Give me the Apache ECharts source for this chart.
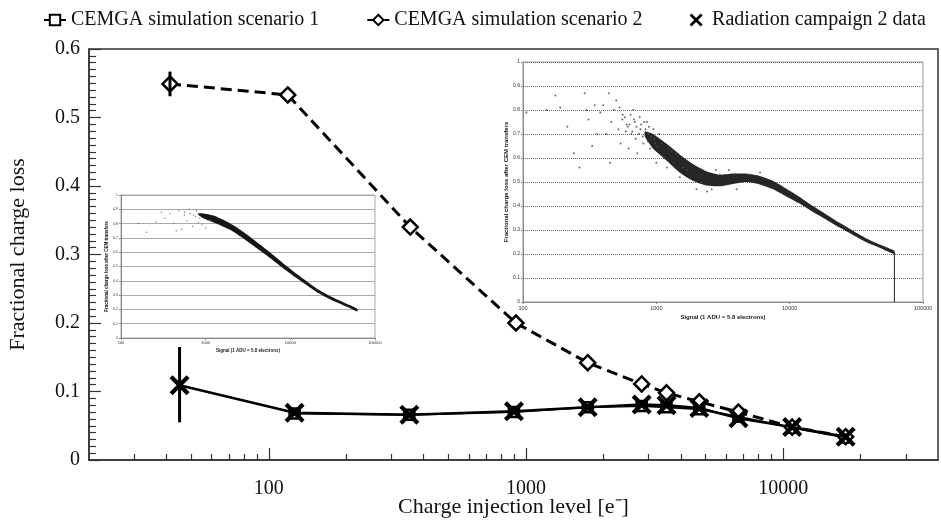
<!DOCTYPE html>
<html><head><meta charset="utf-8">
<script src="https://cdn.jsdelivr.net/npm/echarts@6/dist/echarts.min.js"></script>
<style>html,body{margin:0;padding:0;background:#fff}#c{width:941px;height:524px}</style>
</head><body><div id="c"></div>
<script>
// ---------- data ----------
const seriesNames = ['CEMGA simulation scenario 1', 'CEMGA simulation scenario 2', 'Radiation campaign 2 data'];
const sc1X = [126, 352, 898, 1738, 2818, 3520, 4720, 6700, 10840, 17500];
const sc1Y = [0.068, 0.066, 0.070, 0.077, 0.079, 0.077, 0.074, 0.063, 0.047, 0.033];
const sc2X = [41.3, 118.5, 355, 914, 1738, 2818, 3520, 4720, 6700, 10840, 17500];
const sc2Y = [0.549, 0.533, 0.340, 0.200, 0.142, 0.111, 0.098, 0.085, 0.070, 0.048, 0.034];
const dataX = [45, 126, 352, 898, 1738, 2818, 3520, 4720, 6700, 10840, 17500];
const dataY = [0.109, 0.069, 0.066, 0.071, 0.077, 0.081, 0.080, 0.076, 0.061, 0.048, 0.034];
const sc2ErrX = [41.3], sc2ErrLow = [0.531], sc2ErrHigh = [0.567];
const dataErrX = [45], dataErrLow = [0.055], dataErrHigh = [0.165];
const mainXLabels = [100, 1000, 10000];
const mainXMinor = [30, 40, 50, 60, 70, 80, 90, 200, 300, 400, 500, 600, 700, 800, 900,
  2000, 3000, 4000, 5000, 6000, 7000, 8000, 9000, 20000, 30000];
const insetXLabels = [100, 1000, 10000, 100000];
// inset 1 (small, left)
const in1BandX  = [820, 950, 1334, 2100, 3300, 5180, 8130, 12760, 20000, 31500, 49400, 62000];
const in1BandHi = [0.872, 0.87, 0.85, 0.79, 0.71, 0.62, 0.525, 0.435, 0.35, 0.285, 0.232, 0.203];
const in1BandLo = [0.862, 0.835, 0.80, 0.745, 0.665, 0.58, 0.49, 0.405, 0.325, 0.262, 0.212, 0.186];
const in1DotsX = [160, 200, 260, 300, 330, 380, 420, 450, 480, 520, 560, 600, 640, 700, 760, 820, 900, 1000, 1150, 560, 650, 720, 780, 850];
const in1DotsY = [0.80, 0.74, 0.81, 0.88, 0.84, 0.87, 0.80, 0.75, 0.89, 0.76, 0.86, 0.82, 0.90, 0.78, 0.85, 0.81, 0.79, 0.77, 0.82, 0.88, 0.87, 0.86, 0.89, 0.84];
// inset 2 (large, right)
const in2BandX  = [820, 944, 1190, 1496, 1884, 2371, 2985, 3758, 4732, 5957, 7500, 9441, 11885, 14962, 18840, 23714, 29854, 37580, 47300, 61000];
const in2BandHi = [0.71, 0.70, 0.66, 0.615, 0.575, 0.545, 0.53, 0.535, 0.535, 0.525, 0.505, 0.472, 0.438, 0.40, 0.365, 0.33, 0.297, 0.265, 0.24, 0.214];
const in2BandLo = [0.69, 0.64, 0.59, 0.54, 0.505, 0.485, 0.482, 0.492, 0.50, 0.49, 0.47, 0.44, 0.41, 0.375, 0.343, 0.31, 0.279, 0.249, 0.226, 0.20];
const in2DotsX = [106, 150, 175, 190, 215, 240, 265, 290, 300, 310, 330, 345, 360, 380, 400, 420, 440, 450, 460, 480,
  500, 520, 540, 560, 600, 620, 650, 680, 700, 720, 760, 800, 850, 900, 950, 1000, 1100, 1200, 1300, 1500, 1700, 2000,
  2400, 3000, 3500, 4000, 5000, 580, 610, 640, 660, 690, 710, 740, 770, 790, 830, 860, 880, 920, 980, 1050, 1120, 1250,
  1350, 1400, 1600, 1800, 2200, 2600, 2800, 6000, 530, 555, 590, 630, 670, 750, 810, 870, 960, 1020, 1150];
const in2DotsY = [0.79, 0.80, 0.86, 0.81, 0.73, 0.62, 0.56, 0.87, 0.80, 0.76, 0.65, 0.82, 0.70, 0.79, 0.82, 0.70, 0.87, 0.58, 0.75, 0.80,
  0.84, 0.72, 0.66, 0.78, 0.74, 0.64, 0.70, 0.76, 0.68, 0.62, 0.72, 0.66, 0.75, 0.64, 0.72, 0.58, 0.66, 0.56, 0.63, 0.52, 0.55, 0.47,
  0.46, 0.53, 0.55, 0.47, 0.53, 0.77, 0.73, 0.78, 0.71, 0.75, 0.73, 0.70, 0.74, 0.69, 0.72, 0.67, 0.73, 0.69, 0.66, 0.70, 0.61, 0.64,
  0.58, 0.62, 0.56, 0.52, 0.50, 0.47, 0.55, 0.54, 0.81, 0.76, 0.71, 0.74, 0.80, 0.77, 0.75, 0.70, 0.68, 0.65, 0.60];
const in2EndX = [61000, 61000], in2EndY = [0.205, 0];

// ---------- helpers ----------
const zip = (a, b) => a.map((v, i) => [v, b[i]]);
const SERIF = 'Liberation Serif';
const X_PATH = 'path://M3,0 L10,7 L17,0 L20,3 L13,10 L20,17 L17,20 L10,13 L3,20 L0,17 L7,10 L0,3 Z';
const intFmt = v => String(Math.round(v));

function band(xs, hi, lo, xi, yi, color) {
  return {
    type: 'custom', xAxisIndex: xi, yAxisIndex: yi, silent: true, z: 1,
    data: [[xs[0], hi[0]]],
    renderItem: (p, api) => {
      const pts = xs.map((x, i) => api.coord([x, hi[i]]));
      for (let i = xs.length - 1; i >= 0; i--) pts.push(api.coord([xs[i], lo[i]]));
      return { type: 'polygon', shape: { points: pts, smooth: 0.2 }, style: { fill: color } };
    }
  };
}
function errBars(xs, lo, hi) {
  return {
    type: 'custom', xAxisIndex: 0, yAxisIndex: 0, z: 6, silent: true,
    data: xs.map((x, i) => [x, lo[i], hi[i]]),
    renderItem: (p, api) => {
      const a = api.coord([api.value(0), api.value(1)]);
      const b = api.coord([api.value(0), api.value(2)]);
      return { type: 'line', shape: { x1: a[0], y1: a[1], x2: b[0], y2: b[1] }, style: { stroke: '#000', lineWidth: 3 } };
    }
  };
}
function insetX(gi, fs, nameGap, fsName) {
  return {
    type: 'log', gridIndex: gi, min: 100, max: 100000, logBase: 10,
    name: 'Signal (1 ADU = 5.8 electrons)', nameLocation: 'middle', nameGap: nameGap,
    nameTextStyle: { fontSize: fsName, fontWeight: 'bold', color: '#222', fontFamily: 'Liberation Sans' },
    axisLine: { show: true, lineStyle: { color: '#888', width: 1 } },
    axisTick: { show: true, length: 2, customValues: insetXLabels, lineStyle: { color: '#888' } },
    axisLabel: { customValues: insetXLabels, formatter: intFmt, fontSize: fs, color: '#333', margin: 3, fontFamily: 'Liberation Sans' },
    splitLine: { show: false }, minorTick: { show: false }
  };
}
function insetY(gi, fs, nameGap, fsName, gridType) {
  return {
    type: 'value', gridIndex: gi, min: 0, max: 1, interval: 0.1,
    name: 'Fractional charge loss after CEM transfers', nameLocation: 'middle', nameGap: nameGap,
    nameTextStyle: { fontSize: fsName, fontWeight: 'bold', color: '#111', fontFamily: 'Liberation Sans' },
    axisLine: { show: true, lineStyle: { color: '#888', width: 1 } },
    axisTick: { show: true, length: 2, lineStyle: { color: '#888' } },
    axisLabel: { fontSize: fs, color: '#333', margin: 3, fontFamily: 'Liberation Sans' },
    splitLine: { show: true, lineStyle: { color: gridType === 'dotted' ? '#666' : '#aaa', type: gridType, width: 1 } }
  };
}

const chart = echarts.init(document.getElementById('c'), null, { renderer: 'canvas' });
const option = {
  backgroundColor: '#fff',
  animation: false,
  textStyle: { fontFamily: SERIF },
  legend: {
    top: 5, left: 38, itemGap: 47, itemWidth: 22, itemHeight: 13,
    textStyle: { fontFamily: SERIF, fontSize: 20, color: '#111' },
    data: [
      { name: seriesNames[0] },
      { name: seriesNames[1] },
      { name: seriesNames[2], icon: X_PATH, lineStyle: { opacity: 0, width: 0 } }
    ]
  },
  grid: [
    { left: 89, top: 49, right: 3, bottom: 64, show: true, borderColor: '#333', borderWidth: 1.5,
      containLabel: false, outerBoundsMode: 'none' },
    { left: 121, top: 195, width: 254, height: 143, show: true, borderColor: '#aaa', borderWidth: 1,
      containLabel: false, outerBoundsMode: 'none' },
    { left: 523, top: 62, width: 400, height: 240, show: true, borderColor: '#999', borderWidth: 1,
      containLabel: false, outerBoundsMode: 'none' }
  ],
  xAxis: [
    {
      type: 'log', gridIndex: 0, min: 20, max: 40000, logBase: 10,
      name: 'Charge injection level [e\u207B]', nameLocation: 'middle', nameGap: 36, nameMoveOverlap: false,
      nameTextStyle: { fontFamily: SERIF, fontSize: 22, color: '#111' },
      axisLine: { show: true, lineStyle: { color: '#333', width: 1.5 } },
      axisTick: { show: true, inside: true, length: 12, customValues: mainXLabels, lineStyle: { color: '#333', width: 1.2 } },
      axisLabel: { customValues: mainXLabels, formatter: intFmt, fontFamily: SERIF, fontSize: 20, color: '#111', margin: 19 },
      splitLine: { show: false }, minorTick: { show: false }
    },
    {
      type: 'log', gridIndex: 0, min: 20, max: 40000, logBase: 10, position: 'bottom',
      axisLine: { show: false },
      axisTick: { show: true, inside: true, length: 6, customValues: mainXMinor, lineStyle: { color: '#333', width: 1.2 } },
      axisLabel: { show: false }, splitLine: { show: false }
    },
    insetX(1, 4, 10, 4.5),
    insetX(2, 5.5, 12, 6)
  ],
  yAxis: [
    {
      type: 'value', gridIndex: 0, min: 0, max: 0.6, interval: 0.1,
      name: 'Fractional charge loss', nameLocation: 'middle', nameGap: 60, nameMoveOverlap: false,
      nameTextStyle: { fontFamily: SERIF, fontSize: 22, color: '#111' },
      axisLine: { show: true, lineStyle: { color: '#333', width: 1.5 } },
      axisTick: { show: true, inside: true, length: 12, lineStyle: { color: '#333', width: 1.2 } },
      minorTick: { show: true, splitNumber: 10, length: 7, lineStyle: { color: '#333', width: 1.2 } },
      axisLabel: { fontFamily: SERIF, fontSize: 20, color: '#111', margin: 9 },
      splitLine: { show: false }
    },
    insetY(1, 3.5, 9, 4.5, 'solid'),
    insetY(2, 5, 12, 6, 'dotted')
  ],
  series: [
    // insets
    band(in1BandX, in1BandHi, in1BandLo, 2, 1, '#151515'),
    { type: 'scatter', xAxisIndex: 2, yAxisIndex: 1, silent: true, z: 1, symbolSize: 1.5,
      itemStyle: { color: '#666' }, data: zip(in1DotsX, in1DotsY) },
    band(in2BandX, in2BandHi, in2BandLo, 3, 2, '#262626'),
    { type: 'scatter', xAxisIndex: 3, yAxisIndex: 2, silent: true, z: 1, symbolSize: 2,
      itemStyle: { color: '#444' }, data: zip(in2DotsX, in2DotsY) },
    { type: 'line', xAxisIndex: 3, yAxisIndex: 2, silent: true, z: 1, symbol: 'none',
      lineStyle: { color: '#222', width: 1 }, data: zip(in2EndX, in2EndY) },
    // main
    errBars(dataErrX, dataErrLow, dataErrHigh),
    errBars(sc2ErrX, sc2ErrLow, sc2ErrHigh),
    { name: seriesNames[0], type: 'line', xAxisIndex: 0, yAxisIndex: 0, z: 5,
      symbol: 'rect', symbolSize: 10,
      lineStyle: { color: '#000', width: 2 },
      itemStyle: { color: '#fff', borderColor: '#000', borderWidth: 2.5 },
      data: zip(sc1X, sc1Y) },
    { name: seriesNames[1], type: 'line', xAxisIndex: 0, yAxisIndex: 0, z: 5,
      symbol: 'diamond', symbolSize: 15,
      lineStyle: { color: '#000', width: 3, type: [11, 6] },
      itemStyle: { color: '#fff', borderColor: '#000', borderWidth: 2.5 },
      data: zip(sc2X, sc2Y) },
    { name: seriesNames[2], type: 'line', xAxisIndex: 0, yAxisIndex: 0, z: 7,
      symbol: X_PATH, symbolSize: 20,
      lineStyle: { color: '#000', width: 2.5 },
      itemStyle: { color: '#000' },
      data: zip(dataX, dataY) }
  ]
};
chart.setOption(option);
</script>
</body></html>
